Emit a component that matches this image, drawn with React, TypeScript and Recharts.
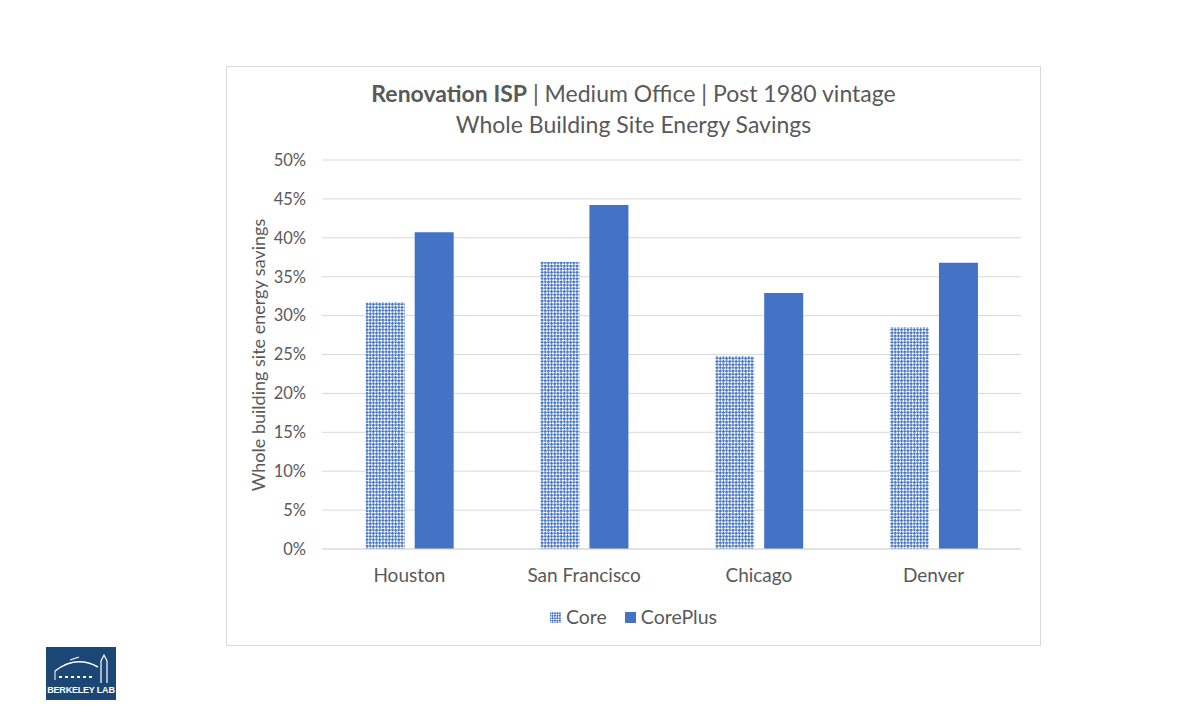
import { Bar, BarChart, CartesianGrid, XAxis, YAxis } from "recharts";

const cities = ["Houston", "San Francisco", "Chicago", "Denver"];
const coreSavings = [31.7, 36.9, 24.8, 28.5];
const corePlusSavings = [40.7, 44.2, 32.9, 36.8];
const yTicks = [0, 5, 10, 15, 20, 25, 30, 35, 40, 45, 50];

const data = cities.map((city, i) => ({
    city,
    core: coreSavings[i],
    corePlus: corePlusSavings[i],
}));

const BLUE = "#4472c4";
const TEXT = "#595959";
const FONT = "Lato, 'Open Sans', sans-serif";

function PatternSwatch() {
    return (
        <svg width={11} height={11}>
            <defs>
                <pattern id="coreSwatch" width={3.5} height={3.5} patternUnits="userSpaceOnUse" patternTransform="rotate(45)">
                    <rect width={3.5} height={3.5} fill="#ffffff" />
                    <rect width={2} height={2} fill={BLUE} />
                    <rect x={1.75} y={1.75} width={2} height={2} fill={BLUE} />
                </pattern>
            </defs>
            <rect width={11} height={11} fill="url(#coreSwatch)" />
        </svg>
    );
}

function Logo() {
    return (
        <div style={{ position: "absolute", left: 46, top: 647, width: 70, height: 53, background: "#1c4676" }}>
            <svg width={70} height={40} style={{ position: "absolute", left: 0, top: 0 }}>
                <path d="M9 24 Q30 8 52 20" stroke="#fff" strokeWidth={1.5} fill="none" />
                <path d="M24 13 L33 10" stroke="#fff" strokeWidth={1.2} />
                <line x1={9} y1={24} x2={9} y2={33} stroke="#fff" strokeWidth={1} />
                <path d="M13 30 h3 M19 30 h3 M25 30 h3 M31 30 h3 M37 30 h3 M43 30 h3" stroke="#fff" strokeWidth={2} />
                <path d="M55 36 V14 L58 8 L61 14 V36" stroke="#fff" strokeWidth={1.2} fill="none" />
            </svg>
            <div style={{ position: "absolute", left: 0, right: 0, bottom: 5, textAlign: "center", color: "#fff", fontFamily: "'Liberation Sans', Arial, sans-serif", fontWeight: 700, fontSize: 9, letterSpacing: -0.2 }}>
                BERKELEY LAB
            </div>
        </div>
    );
}

export default function App() {
    return (
        <div style={{ position: "absolute", left: 0, top: 0, width: 1200, height: 713, background: "#fff", fontFamily: FONT, color: TEXT }}>
            <div style={{ position: "absolute", left: 226, top: 66, width: 815, height: 580, border: "1px solid #d9d9d9", boxSizing: "border-box" }}>
                <div style={{ position: "absolute", left: 0, right: 0, top: 11, textAlign: "center", fontSize: 23, lineHeight: "31px" }}>
                    <div>
                        <span style={{ fontWeight: 700 }}>Renovation ISP</span> | Medium Office | Post 1980 vintage
                    </div>
                    <div>Whole Building Site Energy Savings</div>
                </div>
                <BarChart width={813} height={578} data={data} margin={{ top: 93, right: 19, left: 35, bottom: 66 }} barCategoryGap="25%" barGap={10}>
                    <defs>
                        <pattern id="corePattern" width={4.5} height={4.5} patternUnits="userSpaceOnUse" patternTransform="rotate(45)">
                            <rect width={4.5} height={4.5} fill="#ffffff" />
                            <rect width={2.5} height={2.5} fill={BLUE} />
                            <rect x={2.25} y={2.25} width={2.5} height={2.5} fill={BLUE} />
                        </pattern>
                    </defs>
                    <CartesianGrid vertical={false} stroke="#d9d9d9" />
                    <XAxis
                        dataKey="city"
                        axisLine={{ stroke: "#d9d9d9" }}
                        tickLine={false}
                        tickSize={0}
                        tickMargin={20}
                        height={30}
                        tick={{ fill: TEXT, fontSize: 19, fontFamily: FONT }}
                    />
                    <YAxis
                        domain={[0, 50]}
                        ticks={yTicks}
                        width={60}
                        axisLine={false}
                        tickLine={false}
                        tickSize={0}
                        tickMargin={16}
                        tick={{ fill: TEXT, fontSize: 16.5, fontFamily: FONT }}
                        tickFormatter={(v) => `${v}%`}
                    />
                    <Bar dataKey="core" name="Core" fill="url(#corePattern)" isAnimationActive={false} />
                    <Bar dataKey="corePlus" name="CorePlus" fill={BLUE} isAnimationActive={false} />
                </BarChart>
            </div>
            <div style={{ position: "absolute", left: 258, top: 355, transform: "translate(-50%, -50%) rotate(-90deg)", whiteSpace: "nowrap", fontSize: 18 }}>
                Whole building site energy savings
            </div>
            <div style={{ position: "absolute", left: 226, width: 815, top: 603, display: "flex", justifyContent: "center", alignItems: "center", fontSize: 19.5, lineHeight: "28px" }}>
                <span style={{ display: "flex", alignItems: "center", gap: 5 }}>
                    <PatternSwatch />
                    Core
                </span>
                <span style={{ display: "flex", alignItems: "center", gap: 5, marginLeft: 18 }}>
                    <span style={{ width: 11, height: 11, background: BLUE, display: "inline-block" }} />
                    CorePlus
                </span>
            </div>
            <Logo />
        </div>
    );
}
